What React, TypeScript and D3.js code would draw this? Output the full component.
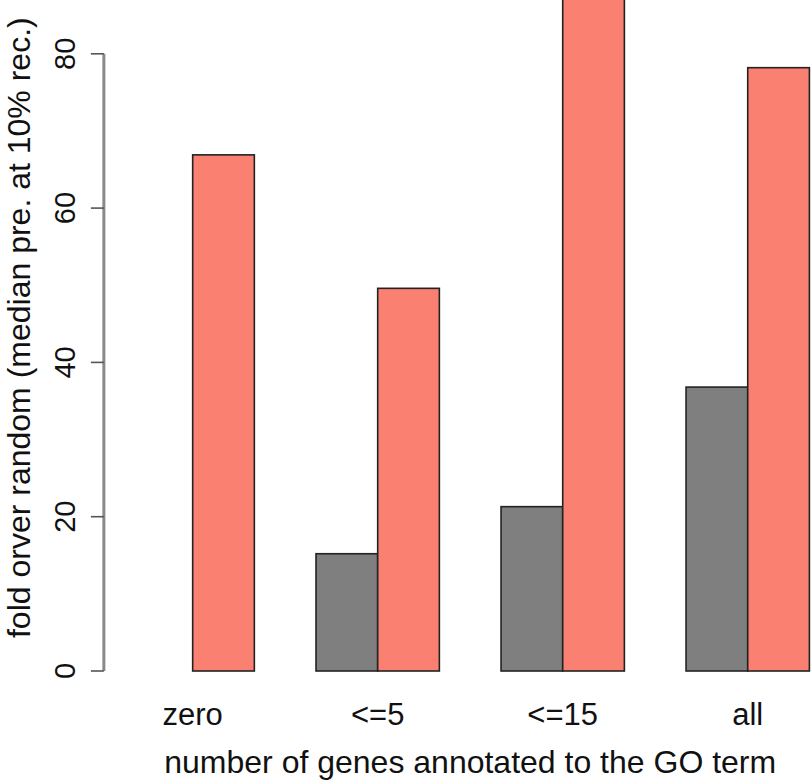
import React from "react";
import * as d3 from "d3";

const categories = ["zero", "<=5", "<=15", "all"];
const grayValues = [0, 15.2, 21.3, 36.8];
const redValues = [66.9, 49.6, 89, 78.2];
const yTicks = [0, 20, 40, 60, 80];
const xTitle = "number of genes annotated to the GO term";
const yTitle = "fold orver random (median pre. at 10% rec.)";

const W = 811;
const H = 781;
const FONT = "'Liberation Sans', Arial, Helvetica, sans-serif";

export default function App() {
  // R barplot units: bars occupy units 1..12 (space c(0,1)), usr extends 4%
  const x = d3.scaleLinear().domain([1, 12]).range([131, 809.4]);
  const y = d3.scaleLinear().domain([0, 80]).range([671, 53.8]);
  const axisX = x(1 - 0.04 * 11);

  const bars: { x0: number; x1: number; v: number; fill: string }[] = [];
  categories.forEach((_, i) => {
    const start = 1 + i * 3;
    bars.push({ x0: start, x1: start + 1, v: grayValues[i], fill: "#7f7f7f" });
    bars.push({ x0: start + 1, x1: start + 2, v: redValues[i], fill: "#fa8072" });
  });

  return (
    <div style={{ position: "absolute", left: 0, top: 0 }}>
      <svg width={W} height={H} style={{ display: "block", background: "#fff" }}>
        {bars
          .filter((b) => b.v > 0)
          .map((b, i) => (
            <rect
              key={i}
              x={x(b.x0)}
              y={y(b.v)}
              width={x(b.x1) - x(b.x0)}
              height={y(0) - y(b.v)}
              fill={b.fill}
              stroke="#222"
              strokeWidth={1.6}
            />
          ))}
        <line x1={axisX} x2={axisX} y1={y(0)} y2={y(80)} stroke="#8a8a8a" strokeWidth={3} />
        {yTicks.map((t) => (
          <g key={t}>
            <line x1={axisX - 13} x2={axisX} y1={y(t)} y2={y(t)} stroke="#555" strokeWidth={1.6} />
            <text
              transform={`translate(75,${y(t)}) rotate(-90)`}
              textAnchor="middle"
              fontFamily={FONT}
              fontSize={29}
              fill="#111"
            >
              {t}
            </text>
          </g>
        ))}
        {categories.map((c, i) => (
          <text
            key={c}
            x={x(2 + i * 3)}
            y={725}
            textAnchor="middle"
            fontFamily={FONT}
            fontSize={31}
            fill="#111"
          >
            {c}
          </text>
        ))}
        <text
          x={(x(1) + x(12)) / 2}
          y={773}
          textAnchor="middle"
          fontFamily={FONT}
          fontSize={32}
          fill="#111"
        >
          {xTitle}
        </text>
        <text
          transform={`translate(30,${y(0) - 0.5 * (y(0) - y(89))}) rotate(-90)`}
          textAnchor="middle"
          fontFamily={FONT}
          fontSize={32}
          fill="#111"
        >
          {yTitle}
        </text>
      </svg>
    </div>
  );
}
